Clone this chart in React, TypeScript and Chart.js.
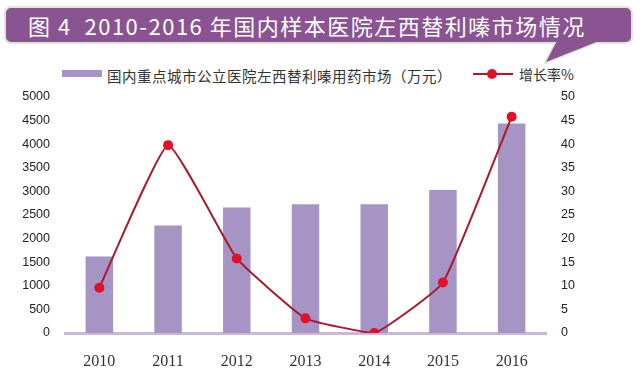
import React, { useEffect, useRef } from "react";
import { Chart, registerables } from "chart.js";

Chart.register(...registerables);

const categories = ["2010", "2011", "2012", "2013", "2014", "2015", "2016"];
const marketValues = [1620, 2280, 2660, 2730, 2730, 3030, 4440];
const growthRates = [9.6, 39.8, 15.8, 3.1, 0, 10.7, 45.8];
const leftTicks = { min: 0, max: 5000, step: 500 };
const rightTicks = { min: 0, max: 50, step: 5 };
const titleText = "图 4  2010-2016 年国内样本医院左西替利嗪市场情况";
const barLegend = "国内重点城市公立医院左西替利嗪用药市场（万元）";
const lineLegend = "增长率%";

const BAR_COLOR = "#a594c4";
const LINE_COLOR = "#a8192e";
const POINT_COLOR = "#e0112b";

export default function App() {
  const ref = useRef<HTMLCanvasElement | null>(null);

  useEffect(() => {
    if (!ref.current) return;
    const chart = new Chart(ref.current, {
      type: "bar",
      data: {
        labels: categories,
        datasets: [
          {
            type: "line",
            label: lineLegend,
            data: growthRates,
            yAxisID: "y1",
            borderColor: LINE_COLOR,
            borderWidth: 2,
            pointRadius: 5,
            pointBackgroundColor: POINT_COLOR,
            pointBorderColor: POINT_COLOR,
            pointBorderWidth: 0,
            tension: 0.12,
            order: 0,
          } as any,
          {
            type: "bar",
            label: barLegend,
            data: marketValues,
            yAxisID: "y",
            backgroundColor: BAR_COLOR,
            barPercentage: 0.4,
            categoryPercentage: 1,
            order: 1,
          },
        ],
      },
      options: {
        responsive: false,
        animation: false,
        layout: { padding: { top: 97, left: 0, right: 0, bottom: 0 } },
        plugins: {
          legend: { display: false },
          title: { display: false },
          tooltip: { enabled: false },
        },
        scales: {
          x: {
            offset: true,
            grid: { display: false, drawTicks: false },
            border: { display: true, color: "#cbb8d8", width: 3 },
            ticks: {
              color: "#333",
              font: { family: "'Liberation Serif', serif", size: 16 },
              padding: 19,
            },
            afterFit: (s: any) => {
              s.height = 46;
            },
          },
          y: {
            position: "left",
            min: leftTicks.min,
            max: leftTicks.max,
            grid: { display: false, drawTicks: false },
            border: { display: false },
            ticks: {
              stepSize: leftTicks.step,
              color: "#222",
              padding: 15,
              font: { family: "'Liberation Sans', Arial, sans-serif", size: 12.5 },
              callback: (v: any) => String(v),
            },
            afterFit: (s: any) => {
              s.width = 65;
            },
          },
          y1: {
            position: "right",
            min: rightTicks.min,
            max: rightTicks.max,
            grid: { display: false, drawTicks: false },
            border: { display: false },
            ticks: {
              stepSize: rightTicks.step,
              color: "#222",
              padding: 15,
              font: { family: "'Liberation Sans', Arial, sans-serif", size: 12.5 },
              callback: (v: any) => String(v),
            },
            afterFit: (s: any) => {
              s.width = 94;
            },
          },
        },
      },
    });
    return () => chart.destroy();
  }, []);

  return (
    <div
      style={{
        position: "absolute",
        left: 0,
        top: 0,
        width: 640,
        height: 379,
        background: "#ffffff",
        overflow: "hidden",
      }}
    >
      <svg
        width={640}
        height={70}
        style={{ position: "absolute", left: 0, top: 0 }}
      >
        <polygon points="556,41 600,41 545,63" fill="#8a5493" stroke="#e2e5d8" strokeWidth={2} />
        <rect x={5} y={7} width={627} height={36} rx={6} ry={6} fill="#8a5493" stroke="#e2e5d8" strokeWidth={2} />
        <polygon points="557,41 599,41 546,62" fill="#8a5493" />
      </svg>
      <div
        style={{
          position: "absolute",
          left: 28,
          top: 7,
          height: 36,
          lineHeight: "36px",
          color: "#ffffff",
          fontFamily: "'Noto Sans CJK SC', sans-serif",
          fontSize: 22,
          letterSpacing: "1.5px",
          whiteSpace: "pre",
        }}
      >
        {titleText}
      </div>
      <div
        style={{
          position: "absolute",
          left: 62,
          top: 70,
          width: 40,
          height: 7,
          background: BAR_COLOR,
        }}
      />
      <div
        style={{
          position: "absolute",
          left: 107,
          top: 64,
          height: 24,
          lineHeight: "24px",
          color: "#333",
          fontFamily: "'Noto Sans CJK SC', serif",
          fontSize: 14.5,
          letterSpacing: "0.5px",
          whiteSpace: "nowrap",
        }}
      >
        {barLegend}
      </div>
      <div
        style={{
          position: "absolute",
          left: 473,
          top: 73,
          width: 40,
          height: 2,
          background: LINE_COLOR,
        }}
      />
      <div
        style={{
          position: "absolute",
          left: 487,
          top: 69,
          width: 10,
          height: 10,
          borderRadius: 5,
          background: POINT_COLOR,
        }}
      />
      <div
        style={{
          position: "absolute",
          left: 519,
          top: 62,
          height: 24,
          lineHeight: "24px",
          color: "#333",
          fontFamily: "'Noto Sans CJK SC', serif",
          fontSize: 14,
          whiteSpace: "nowrap",
        }}
      >
        {lineLegend}
      </div>
      <canvas
        ref={ref}
        width={640}
        height={379}
        style={{ position: "absolute", left: 0, top: 0, width: 640, height: 379 }}
      />
    </div>
  );
}
